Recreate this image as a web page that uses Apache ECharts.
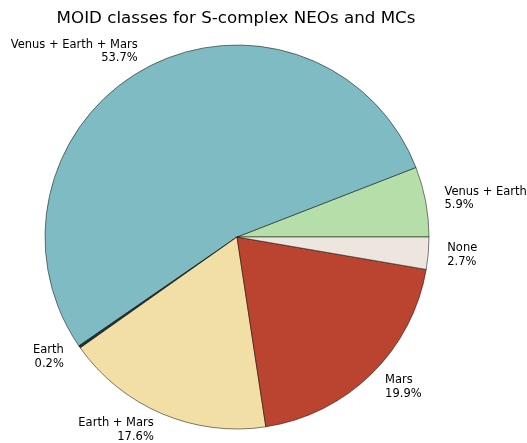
<!DOCTYPE html>
<html>
<head>
<meta charset="utf-8">
<script src="https://cdn.jsdelivr.net/npm/echarts@6/dist/echarts.min.js"></script>
<style>html,body{margin:0;padding:0;background:#fff;}#c{width:527px;height:443px;}</style>
</head>
<body>
<div id="c"></div>
<script>
const categories = ['Venus + Earth', 'Venus + Earth + Mars', 'Earth', 'Earth + Mars', 'Mars', 'None'];
const values = [5.9, 53.7, 0.2, 17.6, 19.9, 2.7];
const colors = ['#b5dea8', '#7fbbc2', '#1f3537', '#f2dfa5', '#bb4430', '#ede6df'];

const chart = echarts.init(document.getElementById('c'), null, {renderer: 'canvas'});
chart.setOption({
  animation: false,
  title: {
    text: 'MOID classes for S-complex NEOs and MCs',
    left: 231, top: 5, textAlign: 'center',
    textStyle: {fontFamily: 'DejaVu Sans', fontSize: 16.7, fontWeight: 'normal', color: '#000'}
  },
  series: [{
    type: 'pie',
    center: [237, 237],
    radius: 192,
    startAngle: 0,
    clockwise: false,
    avoidLabelOverlap: false,
    data: categories.map((c, i) => ({name: c, value: values[i], itemStyle: {color: colors[i]}})),
    itemStyle: {borderColor: '#000', borderWidth: 0.5},
    label: {
      show: true, position: 'outside',
      formatter: p => p.name + '\n' + p.value.toFixed(1) + '%',
      fontFamily: 'DejaVu Sans', fontSize: 11.5, lineHeight: 13.5, color: '#000'
    },
    labelLine: {show: false, length: 18, length2: -4},
    emphasis: {disabled: true}
  }]
});
</script>
</body>
</html>
